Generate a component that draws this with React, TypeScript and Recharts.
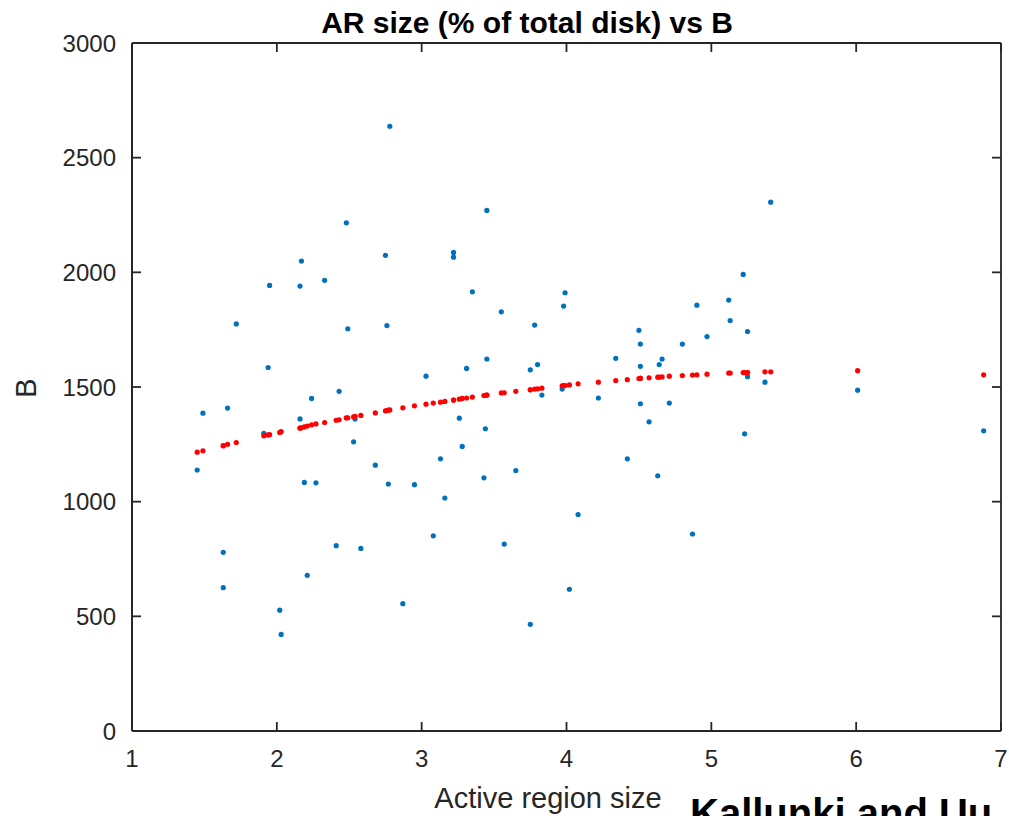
import { ScatterChart, Scatter, XAxis, YAxis } from "recharts";

// active region size (% of total disk)
const arSize = [
  1.45, 1.49, 1.63, 1.63, 1.66, 1.72, 1.91, 1.94, 1.95, 2.02, 2.03, 2.16, 2.16,
  2.17, 2.19, 2.21, 2.24, 2.27, 2.33, 2.41, 2.43, 2.48, 2.49, 2.53, 2.54, 2.58,
  2.68, 2.75, 2.76, 2.77, 2.78, 2.87, 2.95, 3.03, 3.08, 3.13, 3.16, 3.22, 3.22,
  3.26, 3.28, 3.31, 3.35, 3.43, 3.44, 3.45, 3.45, 3.55, 3.57, 3.65, 3.75, 3.75,
  3.78, 3.8, 3.83, 3.97, 3.98, 3.99, 4.02, 4.08, 4.22, 4.34, 4.42, 4.5, 4.51,
  4.51, 4.51, 4.57, 4.63, 4.64, 4.66, 4.71, 4.8, 4.87, 4.9, 4.97, 5.12, 5.13,
  5.22, 5.23, 5.25, 5.25, 5.37, 5.41, 6.01, 6.88,
];

// measured B
const bValue = [
  1138, 1386, 779, 625, 1408, 1775, 1298, 1585, 1943, 527, 421, 1361, 1940,
  2049, 1084, 679, 1450, 1082, 1965, 808, 1481, 2216, 1754, 1261, 1360, 796,
  1159, 2074, 1768, 1077, 2637, 555, 1074, 1547, 851, 1187, 1016, 2087, 2066,
  1364, 1241, 1581, 1915, 1104, 1318, 1622, 2270, 1828, 815, 1136, 465, 1575,
  1770, 1598, 1465, 1491, 1853, 1911, 618, 944, 1452, 1625, 1187, 1747, 1687,
  1590, 1427, 1348, 1113, 1598, 1622, 1430, 1687, 859, 1857, 1720, 1879, 1790,
  1991, 1296, 1742, 1545, 1521, 2306, 1486, 1309,
];

// fitted B at the same sizes
const bFit = [
  1216, 1222, 1244, 1244, 1250, 1258, 1287, 1291, 1292, 1302, 1305, 1321, 1321,
  1322, 1326, 1330, 1335, 1339, 1345, 1355, 1357, 1365, 1366, 1370, 1372, 1376,
  1387, 1396, 1397, 1399, 1400, 1409, 1418, 1425, 1430, 1434, 1437, 1443, 1443,
  1447, 1450, 1452, 1456, 1463, 1464, 1465, 1465, 1474, 1475, 1481, 1488, 1488,
  1491, 1492, 1495, 1505, 1506, 1506, 1509, 1514, 1521, 1528, 1532, 1537, 1538,
  1538, 1538, 1540, 1543, 1543, 1544, 1547, 1550, 1552, 1553, 1556, 1561, 1561,
  1563, 1563, 1563, 1563, 1566, 1566, 1571, 1553,
];

const xTicks = [1, 2, 3, 4, 5, 6, 7];
const yTicks = [0, 500, 1000, 1500, 2000, 2500, 3000];

const measured = arSize.map((x, i) => ({ x, y: bValue[i] }));
const fitted = arSize.map((x, i) => ({ x, y: bFit[i] }));

const AXIS = "#262626";
const FONT = "'Liberation Sans', Arial, Helvetica, sans-serif";

const dot = (color: string) => (props: any) =>
  <circle cx={props.cx} cy={props.cy} r={2.6} fill={color} />;

const noLabel = () => <g />;

const axisLine = { stroke: AXIS, strokeWidth: 1.8 };
const tickStyle = { fill: AXIS, fontSize: 24, fontFamily: FONT };

// inward tick marks + box frame (mirrored axes take no room)
const frameX = (id: string, orientation: "top" | "bottom") => (
  <XAxis
    xAxisId={id}
    orientation={orientation}
    mirror
    type="number"
    dataKey="x"
    domain={[1, 7]}
    ticks={xTicks}
    interval={0}
    allowDataOverflow
    height={30}
    axisLine={axisLine}
    tickLine={axisLine}
    tickSize={9}
    tick={noLabel}
  />
);

const frameY = (id: string, orientation: "left" | "right") => (
  <YAxis
    yAxisId={id}
    orientation={orientation}
    mirror
    type="number"
    dataKey="y"
    domain={[0, 3000]}
    ticks={yTicks}
    interval={0}
    allowDataOverflow
    width={40}
    axisLine={axisLine}
    tickLine={axisLine}
    tickSize={9}
    tick={noLabel}
  />
);

export default function App() {
  return (
    <div
      style={{
        position: "absolute",
        top: 0,
        left: 0,
        width: 1009,
        height: 816,
        overflow: "hidden",
        background: "#fff",
      }}
    >
      <ScatterChart
        width={1009}
        height={816}
        margin={{ top: 43, right: 8, bottom: 0, left: 0 }}
      >
        <XAxis
          xAxisId="bottom"
          type="number"
          dataKey="x"
          domain={[1, 7]}
          ticks={xTicks}
          interval={0}
          allowDataOverflow
          height={85}
          axisLine={axisLine}
          tickLine={false}
          tickSize={0}
          tickMargin={19}
          tick={tickStyle}
        />
        <YAxis
          yAxisId="left"
          type="number"
          dataKey="y"
          domain={[0, 3000]}
          ticks={yTicks}
          interval={0}
          allowDataOverflow
          width={132}
          axisLine={axisLine}
          tickLine={false}
          tickSize={0}
          tickMargin={16}
          tick={tickStyle}
        />
        {frameX("frameBottom", "bottom")}
        {frameX("frameTop", "top")}
        {frameY("frameLeft", "left")}
        {frameY("frameRight", "right")}
        <Scatter
          xAxisId="bottom"
          yAxisId="left"
          data={measured}
          shape={dot("#0072BD")}
          isAnimationActive={false}
        />
        <Scatter
          xAxisId="bottom"
          yAxisId="left"
          data={fitted}
          shape={dot("#FF0000")}
          isAnimationActive={false}
        />
      </ScatterChart>
      <svg
        width={1009}
        height={816}
        style={{ position: "absolute", top: 0, left: 0, pointerEvents: "none" }}
      >
        <text
          x={527}
          y={33}
          textAnchor="middle"
          fontFamily={FONT}
          fontWeight="bold"
          fontSize={30}
          fill="#000"
        >
          AR size (% of total disk) vs B
        </text>
        <text
          x={0}
          y={0}
          transform="translate(36 388) rotate(-90)"
          textAnchor="middle"
          fontFamily={FONT}
          fontSize={29}
          fill={AXIS}
        >
          B
        </text>
        <text
          x={548}
          y={808}
          textAnchor="middle"
          fontFamily={FONT}
          fontSize={29}
          fill={AXIS}
        >
          Active region size
        </text>
        <text
          x={690}
          y={827}
          fontFamily={FONT}
          fontWeight="bold"
          fontSize={40}
          fill="#000"
        >
          Kallunki and Uu
        </text>
      </svg>
    </div>
  );
}
